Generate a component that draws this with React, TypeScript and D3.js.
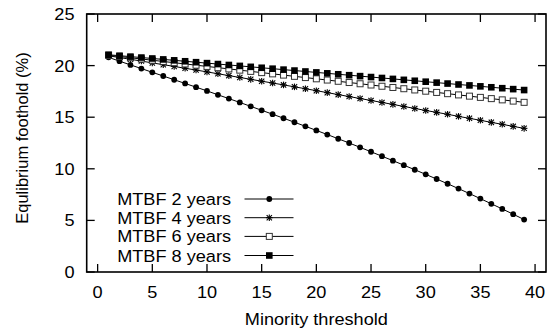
import React from 'react';
import * as d3 from 'd3';

// minority threshold, 1..39
const thresholds = d3.range(1, 40);

const mtbf2 = [
  20.8, 20.43, 20.07, 19.71, 19.35, 18.99, 18.63, 18.27, 17.91, 17.55,
  17.17, 16.8, 16.43, 16.05, 15.67, 15.29, 14.9, 14.51, 14.12, 13.72,
  13.32, 12.91, 12.5, 12.08, 11.65, 11.22, 10.79, 10.35, 9.91, 9.46,
  9.01, 8.55, 8.08, 7.6, 7.11, 6.61, 6.11, 5.6, 5.08,
];
const mtbf4 = [
  20.95, 20.78, 20.61, 20.44, 20.26, 20.09, 19.92, 19.74, 19.57, 19.39,
  19.21, 19.03, 18.85, 18.67, 18.49, 18.31, 18.13, 17.94, 17.76, 17.57,
  17.38, 17.19, 17.0, 16.81, 16.62, 16.43, 16.24, 16.04, 15.85, 15.65,
  15.47, 15.28, 15.08, 14.89, 14.7, 14.5, 14.31, 14.11, 13.92,
];
const mtbf6 = [
  21.0, 20.88, 20.76, 20.64, 20.52, 20.4, 20.28, 20.16, 20.04, 19.92,
  19.8, 19.68, 19.56, 19.44, 19.32, 19.2, 19.08, 18.96, 18.84, 18.72,
  18.6, 18.48, 18.36, 18.24, 18.12, 18.0, 17.88, 17.76, 17.64, 17.52,
  17.4, 17.28, 17.16, 17.04, 16.92, 16.8, 16.68, 16.56, 16.44,
];
const mtbf8 = [
  21.05, 20.96, 20.87, 20.78, 20.69, 20.6, 20.51, 20.42, 20.33, 20.24,
  20.15, 20.06, 19.97, 19.88, 19.79, 19.7, 19.61, 19.52, 19.43, 19.34,
  19.25, 19.16, 19.07, 18.98, 18.89, 18.8, 18.71, 18.62, 18.53, 18.44,
  18.35, 18.26, 18.17, 18.08, 17.99, 17.9, 17.81, 17.72, 17.63,
];

const seriesNames = ['MTBF 2 years', 'MTBF 4 years', 'MTBF 6 years', 'MTBF 8 years'];
const seriesValues = [mtbf2, mtbf4, mtbf6, mtbf8];
const markerKinds = ['circle', 'star', 'openSquare', 'square'];

const xTicks = [0, 5, 10, 15, 20, 25, 30, 35, 40];
const yTicks = [0, 5, 10, 15, 20, 25];

const W = 549;
const H = 329;
const FONT = '"Liberation Sans", Arial, Helvetica, sans-serif';
const FS = 16.5;

const Marker = ({ kind, x, y }: { kind: string; x: number; y: number }) => {
  if (kind === 'circle') return <circle cx={x} cy={y} r={2.9} fill="#000" />;
  if (kind === 'square')
    return <rect x={x - 3.3} y={y - 3.3} width={6.6} height={6.6} fill="#000" />;
  if (kind === 'openSquare')
    return (
      <rect x={x - 3} y={y - 3} width={6} height={6} fill="#fff" stroke="#333" strokeWidth={1} />
    );
  const s = 3.3;
  return (
    <g stroke="#000" strokeWidth={1.1}>
      <line x1={x - s} y1={y} x2={x + s} y2={y} />
      <line x1={x} y1={y - s} x2={x} y2={y + s} />
      <line x1={x - s * 0.8} y1={y - s * 0.8} x2={x + s * 0.8} y2={y + s * 0.8} />
      <line x1={x - s * 0.8} y1={y + s * 0.8} x2={x + s * 0.8} y2={y - s * 0.8} />
    </g>
  );
};

// text in the reference is a little wider than Liberation Sans, hence the sx stretch
const Label = ({ x, y, anchor, children, rotate, sx = 1.1 }: any) => (
  <text
    transform={`translate(${x},${y})${rotate ? ` rotate(${rotate})` : ''} scale(${sx},1)`}
    textAnchor={anchor}
    fontFamily={FONT}
    fontSize={FS}
    fill="#000"
  >
    {children}
  </text>
);

export default function App() {
  const left = 86.7;
  const right = 546;
  const top = 14;
  const bottom = 272;

  const x = d3.scaleLinear().domain([-1, 41]).range([left, right]);
  const y = d3.scaleLinear().domain([0, 25]).range([bottom, top]);

  const line = d3
    .line<number>()
    .x((_, i) => x(thresholds[i]))
    .y((d) => y(d));

  const tickLen = 8;
  const legendRows = [199, 217.7, 236.4, 255.5];

  return (
    <svg
      width={W}
      height={H}
      style={{ position: 'absolute', left: 0, top: 0, background: '#fff' }}
    >
      {/* ticks, mirrored on all sides */}
      <g stroke="#000" strokeWidth={1.3}>
        {xTicks.map((t) => (
          <g key={'x' + t}>
            <line x1={x(t)} x2={x(t)} y1={bottom} y2={bottom - tickLen} />
            <line x1={x(t)} x2={x(t)} y1={top} y2={top + tickLen} />
          </g>
        ))}
        {yTicks.map((t) => (
          <g key={'y' + t}>
            <line x1={left} x2={left + tickLen} y1={y(t)} y2={y(t)} />
            <line x1={right} x2={right - tickLen} y1={y(t)} y2={y(t)} />
          </g>
        ))}
      </g>

      {xTicks.map((t) => (
        <Label key={'xl' + t} x={x(t)} y={bottom + 26} anchor="middle">
          {t}
        </Label>
      ))}
      {yTicks.map((t) => (
        <Label key={'yl' + t} x={74.5} y={y(t) + 6} anchor="end">
          {t}
        </Label>
      ))}

      <Label x={(left + right) / 2} y={324.5} anchor="middle">
        Minority threshold
      </Label>
      <Label x={27.5} y={138} anchor="middle" rotate={-90} sx={1}>
        Equlibrium foothold (%)
      </Label>

      {seriesValues.map((vals, si) => (
        <g key={'s' + si}>
          <path d={line(vals) || ''} fill="none" stroke="#000" strokeWidth={1} />
          {vals.map((v, i) => (
            <Marker key={i} kind={markerKinds[si]} x={x(thresholds[i])} y={y(v)} />
          ))}
        </g>
      ))}

      {seriesNames.map((name, si) => (
        <g key={'lg' + si}>
          <Label x={231} y={legendRows[si] + 6} anchor="end">
            {name}
          </Label>
          <line x1={244.5} x2={293.5} y1={legendRows[si]} y2={legendRows[si]} stroke="#000" strokeWidth={1} />
          <Marker kind={markerKinds[si]} x={269.3} y={legendRows[si]} />
        </g>
      ))}

      <rect
        x={left}
        y={top}
        width={right - left}
        height={bottom - top}
        fill="none"
        stroke="#000"
        strokeWidth={1.6}
      />
    </svg>
  );
}
